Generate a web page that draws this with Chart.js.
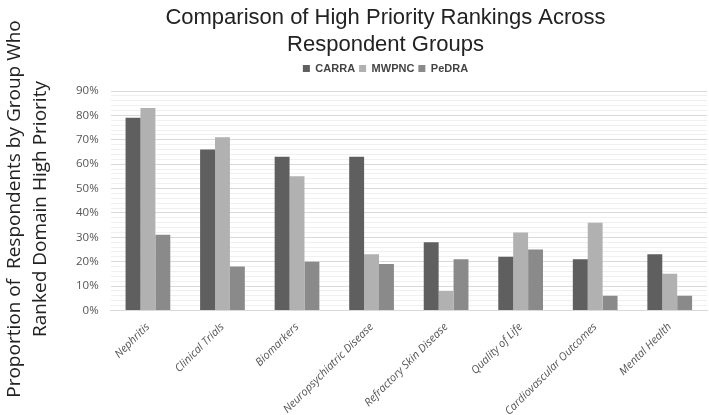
<!DOCTYPE html>
<html>
<head>
<meta charset="utf-8">
<script src="https://cdn.jsdelivr.net/npm/chart.js@4"></script>
<style>
  html, body { margin: 0; padding: 0; background: #fff; }
  #wrap { width: 709px; height: 415px; }
</style>
</head>
<body>
<div id="wrap"><canvas id="chart" width="709" height="415"></canvas></div>
<script>
const categories = [
  "Nephritis", "Clinical Trials", "Biomarkers", "Neuropsychiatric Disease",
  "Refractory Skin Disease", "Quality of Life", "Cardiovascular Outcomes", "Mental Health"
];
const carra = [79, 66, 63, 63, 28, 22, 21, 23];
const mwpnc = [83, 71, 55, 23, 8, 32, 36, 15];
const pedra = [31, 18, 20, 19, 21, 25, 6, 6];
const yTitle = ["Proportion of  Respondents by Group Who", "Ranked Domain High Priority"];

// y axis title drawn in the left margin so title/legend stay centred like the original
const yTitlePlugin = {
  id: "yTitle",
  afterDraw(chart) {
    const ctx = chart.ctx;
    ctx.save();
    ctx.fillStyle = "#222";
    ctx.font = "19px 'Open Sans', sans-serif";
    ctx.textAlign = "center";
    ctx.textBaseline = "middle";
    [15, 41].forEach((x, i) => {
      ctx.save();
      ctx.translate(x, 209);
      ctx.rotate(-Math.PI / 2);
      ctx.fillText(yTitle[i], 0, 0);
      ctx.restore();
    });
    ctx.restore();
  },
};

// a bit of extra room under the legend
const legendGap = {
  id: "legendGap",
  beforeInit(chart) {
    const fit = chart.legend.fit;
    chart.legend.fit = function () {
      fit.bind(chart.legend)();
      this.height += 7;
    };
  },
};

function createRankingChart(id) {
  const chartData = {
    labels: categories,
    datasets: [
      { label: "CARRA", backgroundColor: "#5f5f5f", data: carra },
      { label: "MWPNC", backgroundColor: "#b1b1b1", data: mwpnc },
      { label: "PeDRA", backgroundColor: "#8a8a8a", data: pedra },
    ],
  };

  const config = {
    type: "bar",
    data: chartData,
    plugins: [yTitlePlugin, legendGap],
    options: {
      responsive: false,
      animation: false,
      layout: { padding: { left: 64, right: 2, top: 0, bottom: -5 } },
      datasets: { bar: { categoryPercentage: 0.6, barPercentage: 1.0 } },
      plugins: {
        title: {
          display: true,
          text: ["Comparison of High Priority Rankings Across", "Respondent Groups"],
          color: "#222",
          font: { family: "'Liberation Sans', sans-serif", size: 22, weight: "normal", lineHeight: 1.25 },
          padding: { top: 4, bottom: 0 },
        },
        legend: {
          labels: {
            boxWidth: 7, boxHeight: 7,
            color: "#444",
            font: { family: "'Liberation Sans', sans-serif", size: 11, weight: "bold" },
            padding: 4,
          },
        },
        tooltip: { enabled: false },
      },
      scales: {
        x: {
          grid: { display: false },
          border: { color: "#d9d9d9" },
          ticks: {
            color: "#555",
            maxRotation: 45, minRotation: 45,
            padding: 2,
            font: { family: "'Open Sans', sans-serif", size: 11, style: "italic" },
          },
        },
        y: {
          min: 0, max: 90,
          border: { display: false },
          grid: {
            drawTicks: false,
            color: (ctx) => (ctx.tick && ctx.tick.value % 10 === 0 ? "#d9d9d9" : "#f0f0f0"),
          },
          ticks: {
            stepSize: 2, autoSkip: false, padding: 12,
            color: "#555",
            font: { family: "'Open Sans', sans-serif", size: 11.5 },
            callback: (v) => (v % 10 === 0 ? v + "%" : ""),
          },
        },
      },
    },
  };

  new Chart(document.getElementById(id), config);
}

createRankingChart("chart");
</script>
</body>
</html>
